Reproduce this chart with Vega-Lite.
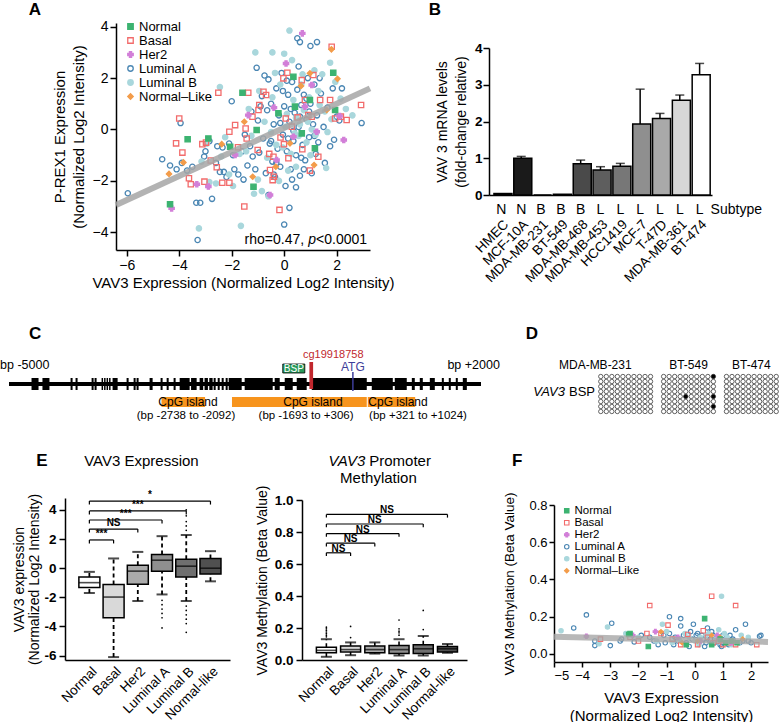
{
"$schema":"https://vega.github.io/schema/vega-lite/v6.json",
"background":"white",
"width":779,"height":722,
"autosize":{"type":"none"},
"padding":0,
"config":{
 "font":"Liberation Sans",
 "view":{"stroke":null},
 "axis":{"grid":false,"domainColor":"black","tickColor":"black","labelColor":"black","titleColor":"black","domainWidth":1.5,"tickWidth":1.5,"titleFontWeight":"normal","labelFont":"Liberation Sans","titleFont":"Liberation Sans","labelOverlap":false},
 "legend":{"labelColor":"black"},
 "text":{"color":"black"}
},
"datasets":{
 "pointsA":[
  {"subtype":"Luminal A","x":-5.96,"y":-2.48},{"subtype":"Luminal A","x":-4.65,"y":-1.16},{"subtype":"Luminal A","x":-4.35,"y":-1.4},{"subtype":"Luminal A","x":-4.1,"y":-1.55},{"subtype":"Luminal A","x":-3.95,"y":0.25},{"subtype":"Luminal A","x":-3.9,"y":-1.3},{"subtype":"Luminal A","x":-3.7,"y":-1.6},{"subtype":"Luminal A","x":-3.5,"y":-1.45},{"subtype":"Luminal A","x":-3.2,"y":-2.85},{"subtype":"Luminal A","x":-3.35,"y":-2.85},
  {"subtype":"Luminal A","x":-3.05,"y":-1.05},{"subtype":"Luminal A","x":-3.0,"y":-0.85},{"subtype":"Luminal A","x":-2.75,"y":-2.7},{"subtype":"Luminal A","x":-2.6,"y":-1.3},{"subtype":"Luminal A","x":-2.45,"y":-1.65},{"subtype":"Luminal A","x":-2.3,"y":-1.65},{"subtype":"Luminal A","x":-2.2,"y":-1.85},{"subtype":"Luminal A","x":-2.35,"y":-0.7},{"subtype":"Luminal A","x":-2.1,"y":-0.55},{"subtype":"Luminal A","x":-2.0,"y":1.1},
  {"subtype":"Luminal A","x":-1.75,"y":-1.75},{"subtype":"Luminal A","x":-1.6,"y":-0.85},{"subtype":"Luminal A","x":-1.9,"y":-1.55},{"subtype":"Luminal A","x":-1.5,"y":-0.2},{"subtype":"Luminal A","x":-1.4,"y":-1.4},{"subtype":"Luminal A","x":-1.3,"y":-0.65},{"subtype":"Luminal A","x":-1.25,"y":0.7},{"subtype":"Luminal A","x":-1.2,"y":-1.05},{"subtype":"Luminal A","x":-1.1,"y":-1.55},{"subtype":"Luminal A","x":-1.05,"y":2.4},
  {"subtype":"Luminal A","x":-1.0,"y":0.35},{"subtype":"Luminal A","x":-0.95,"y":-0.9},{"subtype":"Luminal A","x":-0.85,"y":1.3},{"subtype":"Luminal A","x":-0.8,"y":-0.35},{"subtype":"Luminal A","x":-0.75,"y":2.1},{"subtype":"Luminal A","x":-0.7,"y":-1.7},{"subtype":"Luminal A","x":-0.65,"y":0.75},{"subtype":"Luminal A","x":-0.6,"y":-2.55},{"subtype":"Luminal A","x":-0.55,"y":-0.55},{"subtype":"Luminal A","x":-0.5,"y":1.0},
  {"subtype":"Luminal A","x":-0.45,"y":-1.25},{"subtype":"Luminal A","x":-0.4,"y":0.2},{"subtype":"Luminal A","x":-0.35,"y":-1.85},{"subtype":"Luminal A","x":-0.3,"y":1.6},{"subtype":"Luminal A","x":-0.25,"y":-0.75},{"subtype":"Luminal A","x":-0.2,"y":0.55},{"subtype":"Luminal A","x":-0.15,"y":-1.45},{"subtype":"Luminal A","x":-0.1,"y":2.2},{"subtype":"Luminal A","x":-0.05,"y":-0.2},{"subtype":"Luminal A","x":0.0,"y":-3.7},
  {"subtype":"Luminal A","x":0.0,"y":0.9},{"subtype":"Luminal A","x":0.05,"y":-2.2},{"subtype":"Luminal A","x":0.1,"y":-0.85},{"subtype":"Luminal A","x":0.15,"y":1.35},{"subtype":"Luminal A","x":0.2,"y":-3.05},{"subtype":"Luminal A","x":0.2,"y":0.3},{"subtype":"Luminal A","x":0.25,"y":-1.55},{"subtype":"Luminal A","x":0.3,"y":1.85},{"subtype":"Luminal A","x":0.35,"y":-0.45},{"subtype":"Luminal A","x":0.4,"y":0.65},
  {"subtype":"Luminal A","x":0.45,"y":-2.25},{"subtype":"Luminal A","x":0.45,"y":-1.0},{"subtype":"Luminal A","x":0.5,"y":1.55},{"subtype":"Luminal A","x":0.5,"y":3.55},{"subtype":"Luminal A","x":0.55,"y":0.1},{"subtype":"Luminal A","x":0.6,"y":-1.8},{"subtype":"Luminal A","x":0.6,"y":3.4},{"subtype":"Luminal A","x":0.65,"y":0.95},{"subtype":"Luminal A","x":0.7,"y":-0.6},{"subtype":"Luminal A","x":0.75,"y":1.35},
  {"subtype":"Luminal A","x":0.8,"y":-1.2},{"subtype":"Luminal A","x":0.85,"y":0.4},{"subtype":"Luminal A","x":0.9,"y":2.0},{"subtype":"Luminal A","x":0.95,"y":-0.3},{"subtype":"Luminal A","x":1.0,"y":3.25},{"subtype":"Luminal A","x":1.0,"y":1.0},{"subtype":"Luminal A","x":1.05,"y":-1.7},{"subtype":"Luminal A","x":1.1,"y":0.2},{"subtype":"Luminal A","x":1.15,"y":1.75},{"subtype":"Luminal A","x":1.2,"y":-0.95},
  {"subtype":"Luminal A","x":1.25,"y":3.4},{"subtype":"Luminal A","x":1.25,"y":0.55},{"subtype":"Luminal A","x":1.3,"y":-0.5},{"subtype":"Luminal A","x":1.4,"y":1.4},{"subtype":"Luminal A","x":1.5,"y":0.1},{"subtype":"Luminal A","x":1.55,"y":-1.3},{"subtype":"Luminal A","x":1.65,"y":0.85},{"subtype":"Luminal A","x":1.75,"y":-0.65},{"subtype":"Luminal A","x":1.85,"y":1.6},{"subtype":"Luminal A","x":2.0,"y":0.5},
  {"subtype":"Luminal A","x":2.1,"y":0.35},{"subtype":"Luminal A","x":2.2,"y":1.6},{"subtype":"Luminal A","x":2.95,"y":0.25},{"subtype":"Luminal A","x":-0.3,"y":-1.3},{"subtype":"Luminal A","x":0.3,"y":-1.95},{"subtype":"Luminal A","x":0.75,"y":-1.55},{"subtype":"Luminal A","x":-1.55,"y":-1.95},{"subtype":"Luminal A","x":-2.55,"y":-0.65},{"subtype":"Luminal A","x":-0.9,"y":0.9},{"subtype":"Luminal A","x":0.15,"y":-0.35},
  {"subtype":"Luminal A","x":0.95,"y":0.7},{"subtype":"Luminal A","x":-0.6,"y":1.95},{"subtype":"Luminal A","x":1.35,"y":2.0},{"subtype":"Luminal A","x":0.55,"y":2.45},{"subtype":"Luminal A","x":-0.05,"y":1.5},{"subtype":"Luminal A","x":-1.95,"y":-1.0},{"subtype":"Luminal A","x":-3.3,"y":-4.3},{"subtype":"Luminal A","x":-0.4,"y":-1.75},{"subtype":"Luminal A","x":0.65,"y":-1.1},{"subtype":"Luminal A","x":-2.85,"y":-0.45},
  {"subtype":"Luminal A","x":1.9,"y":-0.4},{"subtype":"Luminal A","x":0.25,"y":0.8},{"subtype":"Luminal A","x":0.6,"y":0.5},{"subtype":"Luminal A","x":-0.15,"y":0.25},{"subtype":"Luminal A","x":0.85,"y":1.2},{"subtype":"Luminal A","x":1.15,"y":-0.25},{"subtype":"Luminal A","x":0.35,"y":-0.05},{"subtype":"Luminal A","x":-0.5,"y":-0.45},{"subtype":"Luminal A","x":0.1,"y":1.9},
  {"subtype":"Luminal B","x":0.2,"y":3.85},{"subtype":"Luminal B","x":-0.45,"y":3.0},{"subtype":"Luminal B","x":-1.1,"y":3.0},{"subtype":"Luminal B","x":0.0,"y":2.95},{"subtype":"Luminal B","x":-2.45,"y":1.65},{"subtype":"Luminal B","x":-3.25,"y":-3.85},{"subtype":"Luminal B","x":-2.1,"y":-1.75},{"subtype":"Luminal B","x":-1.65,"y":-3.75},{"subtype":"Luminal B","x":-1.15,"y":-2.5},{"subtype":"Luminal B","x":-0.85,"y":-2.4},
  {"subtype":"Luminal B","x":-0.6,"y":-2.6},{"subtype":"Luminal B","x":-2.85,"y":-2.05},{"subtype":"Luminal B","x":-3.15,"y":-1.25},{"subtype":"Luminal B","x":-1.45,"y":-0.85},{"subtype":"Luminal B","x":-1.7,"y":-0.95},{"subtype":"Luminal B","x":-0.75,"y":0.3},{"subtype":"Luminal B","x":-0.5,"y":-0.1},{"subtype":"Luminal B","x":-0.3,"y":-0.6},{"subtype":"Luminal B","x":-0.15,"y":1.75},{"subtype":"Luminal B","x":0.05,"y":0.1},
  {"subtype":"Luminal B","x":0.25,"y":-0.95},{"subtype":"Luminal B","x":0.35,"y":1.15},{"subtype":"Luminal B","x":0.45,"y":0.45},{"subtype":"Luminal B","x":0.55,"y":-0.25},{"subtype":"Luminal B","x":0.65,"y":1.75},{"subtype":"Luminal B","x":0.75,"y":0.75},{"subtype":"Luminal B","x":0.85,"y":-0.5},{"subtype":"Luminal B","x":0.95,"y":1.25},{"subtype":"Luminal B","x":1.05,"y":0.0},{"subtype":"Luminal B","x":1.15,"y":2.3},
  {"subtype":"Luminal B","x":1.2,"y":-0.2},{"subtype":"Luminal B","x":1.35,"y":0.95},{"subtype":"Luminal B","x":1.45,"y":2.15},{"subtype":"Luminal B","x":1.55,"y":0.7},{"subtype":"Luminal B","x":1.65,"y":-0.1},{"subtype":"Luminal B","x":1.8,"y":0.4},{"subtype":"Luminal B","x":1.95,"y":1.85},{"subtype":"Luminal B","x":2.15,"y":1.2},{"subtype":"Luminal B","x":2.6,"y":0.55},{"subtype":"Luminal B","x":-0.95,"y":1.5},
  {"subtype":"Luminal B","x":-1.25,"y":-0.25},{"subtype":"Luminal B","x":-2.25,"y":-0.3},{"subtype":"Luminal B","x":-2.6,"y":-2.1},{"subtype":"Luminal B","x":-1.95,"y":-2.2},{"subtype":"Luminal B","x":-0.45,"y":1.25},{"subtype":"Luminal B","x":0.15,"y":-1.6},{"subtype":"Luminal B","x":0.7,"y":2.15},{"subtype":"Luminal B","x":1.0,"y":-1.0},{"subtype":"Luminal B","x":-0.2,"y":-2.0},{"subtype":"Luminal B","x":0.45,"y":-1.45},
  {"subtype":"Luminal B","x":1.3,"y":1.5},{"subtype":"Luminal B","x":0.1,"y":0.6},{"subtype":"Luminal B","x":-0.65,"y":-1.1},{"subtype":"Luminal B","x":-1.35,"y":0.8},{"subtype":"Luminal B","x":0.9,"y":0.3},{"subtype":"Luminal B","x":0.3,"y":2.7},{"subtype":"Luminal B","x":-0.05,"y":-0.7},{"subtype":"Luminal B","x":2.35,"y":0.8},{"subtype":"Luminal B","x":1.6,"y":-1.5},{"subtype":"Luminal B","x":0.4,"y":-0.15},
  {"subtype":"Luminal B","x":-2.95,"y":-0.55},{"subtype":"Luminal B","x":-2.4,"y":-1.05},{"subtype":"Luminal B","x":-1.0,"y":-1.95},{"subtype":"Luminal B","x":-0.35,"y":2.2},{"subtype":"Luminal B","x":1.75,"y":2.6},{"subtype":"Luminal B","x":0.6,"y":0.2},
  {"subtype":"Basal","x":-2.51,"y":1.43},{"subtype":"Basal","x":-4.0,"y":0.43},{"subtype":"Basal","x":-4.12,"y":-0.54},{"subtype":"Basal","x":-3.88,"y":-0.9},{"subtype":"Basal","x":-3.63,"y":-1.9},{"subtype":"Basal","x":-3.56,"y":-2.13},{"subtype":"Basal","x":-3.04,"y":-2.03},{"subtype":"Basal","x":-3.12,"y":-0.57},{"subtype":"Basal","x":-2.98,"y":-0.51},{"subtype":"Basal","x":-2.8,"y":-1.21},
  {"subtype":"Basal","x":-2.57,"y":-1.47},{"subtype":"Basal","x":-2.36,"y":-2.07},{"subtype":"Basal","x":-2.09,"y":-2.07},{"subtype":"Basal","x":-1.87,"y":0.17},{"subtype":"Basal","x":-1.52,"y":-3.0},{"subtype":"Basal","x":-1.37,"y":1.43},{"subtype":"Basal","x":-1.21,"y":0.5},{"subtype":"Basal","x":-1.47,"y":0.04},{"subtype":"Basal","x":-1.43,"y":-0.35},{"subtype":"Basal","x":-1.01,"y":-0.8},
  {"subtype":"Basal","x":-0.95,"y":0.95},{"subtype":"Basal","x":-0.69,"y":1.34},{"subtype":"Basal","x":-0.57,"y":-0.95},{"subtype":"Basal","x":-0.44,"y":-1.97},{"subtype":"Basal","x":-0.39,"y":-1.84},{"subtype":"Basal","x":-0.18,"y":-3.13},{"subtype":"Basal","x":-0.01,"y":-0.57},{"subtype":"Basal","x":0.06,"y":0.43},{"subtype":"Basal","x":0.12,"y":2.21},{"subtype":"Basal","x":-0.03,"y":1.99},
  {"subtype":"Basal","x":0.16,"y":-1.12},{"subtype":"Basal","x":0.29,"y":0.11},{"subtype":"Basal","x":0.51,"y":0.47},{"subtype":"Basal","x":0.67,"y":1.92},{"subtype":"Basal","x":0.79,"y":1.15},{"subtype":"Basal","x":0.92,"y":0.56},{"subtype":"Basal","x":1.05,"y":0.5},{"subtype":"Basal","x":1.11,"y":2.12},{"subtype":"Basal","x":1.37,"y":1.15},{"subtype":"Basal","x":1.75,"y":1.15},
  {"subtype":"Basal","x":1.81,"y":3.22},{"subtype":"Basal","x":1.94,"y":0.43},{"subtype":"Basal","x":2.38,"y":0.37},{"subtype":"Basal","x":2.93,"y":0.95},{"subtype":"Basal","x":0.98,"y":-1.6},{"subtype":"Basal","x":0.69,"y":-0.77},{"subtype":"Basal","x":-0.79,"y":1.47},{"subtype":"Basal","x":-0.98,"y":0.76},{"subtype":"Basal","x":-1.76,"y":-0.69},{"subtype":"Basal","x":-2.09,"y":-0.09},
  {"subtype":"Basal","x":-0.41,"y":-1.06},{"subtype":"Basal","x":1.3,"y":-1.06},{"subtype":"Basal","x":-0.54,"y":-1.58},{"subtype":"Basal","x":-0.14,"y":-0.31},{"subtype":"Basal","x":2.16,"y":0.5},
  {"subtype":"Her2","x":0.69,"y":3.74},{"subtype":"Her2","x":0.07,"y":2.57},{"subtype":"Her2","x":-0.39,"y":0.85},{"subtype":"Her2","x":0.79,"y":0.89},{"subtype":"Her2","x":2.11,"y":0.52},{"subtype":"Her2","x":2.27,"y":-0.41},{"subtype":"Her2","x":-3.33,"y":-2.13},{"subtype":"Her2","x":-4.29,"y":-3.07},{"subtype":"Her2","x":-0.54,"y":-2.55},{"subtype":"Her2","x":-1.87,"y":-0.99},
  {"subtype":"Her2","x":-0.29,"y":-1.19},{"subtype":"Her2","x":0.35,"y":-0.28},{"subtype":"Her2","x":1.24,"y":-0.09},{"subtype":"Her2","x":-1.37,"y":0.56},{"subtype":"Her2","x":1.05,"y":1.73},{"subtype":"Her2","x":-2.89,"y":-2.22},
  {"subtype":"Normal–Like","x":2.03,"y":1.97},{"subtype":"Normal–Like","x":1.14,"y":-1.38},{"subtype":"Normal–Like","x":-4.39,"y":-1.73},{"subtype":"Normal–Like","x":-3.84,"y":-1.28},{"subtype":"Normal–Like","x":-2.38,"y":-0.57},{"subtype":"Normal–Like","x":-1.52,"y":0.3},{"subtype":"Normal–Like","x":0.98,"y":2.19},{"subtype":"Normal–Like","x":0.64,"y":1.69},{"subtype":"Normal–Like","x":-1.2,"y":-1.84},{"subtype":"Normal–Like","x":0.22,"y":-0.54},
  {"subtype":"Normal–Like","x":1.62,"y":0.76},{"subtype":"Normal–Like","x":-0.32,"y":-1.45},{"subtype":"Normal–Like","x":1.8,"y":3.12},
  {"subtype":"Normal","x":-1.59,"y":1.43},{"subtype":"Normal","x":1.87,"y":2.21},{"subtype":"Normal","x":-3.68,"y":-0.38},{"subtype":"Normal","x":-2.89,"y":-0.35},{"subtype":"Normal","x":-4.35,"y":-2.91},{"subtype":"Normal","x":1.17,"y":-0.73},{"subtype":"Normal","x":1.94,"y":0.76},{"subtype":"Normal","x":-0.22,"y":0.63},{"subtype":"Normal","x":0.41,"y":0.89},{"subtype":"Normal","x":0.98,"y":1.15},
  {"subtype":"Normal","x":-1.05,"y":-0.02},{"subtype":"Normal","x":0.67,"y":-0.15},{"subtype":"Normal","x":0.35,"y":2.05},{"subtype":"Normal","x":-2.06,"y":-0.67},{"subtype":"Normal","x":-1.17,"y":-2.23}
 ],
 "fitA":[{"x":-6.41,"y":-2.94},{"x":3.27,"y":1.6}],
 "barsB":[
  {"line":"HMEC","subtype":"N","fold":0.04},
  {"line":"MCF-10A","subtype":"N","fold":1.0,"upper":1.05},
  {"line":"MDA-MB-231","subtype":"B","fold":0.0},
  {"line":"BT-549","subtype":"B","fold":0.02},
  {"line":"MDA-MB-468","subtype":"B","fold":0.85,"upper":0.95},
  {"line":"MDA-MB-453","subtype":"L","fold":0.68,"upper":0.77},
  {"line":"HCC1419","subtype":"L","fold":0.78,"upper":0.86},
  {"line":"MCF-7","subtype":"L","fold":1.93,"upper":2.88},
  {"line":"T-47D","subtype":"L","fold":2.08,"upper":2.22},
  {"line":"MDA-MB-361","subtype":"L","fold":2.58,"upper":2.72},
  {"line":"BT-474","subtype":"L","fold":3.27,"upper":3.58}
 ],
 "sitesC":[
  {"start":-4666,"end":-4562},{"start":-4504,"end":-4400},{"start":-4087,"end":-4057},{"start":-4013,"end":-3983},{"start":-3775,"end":-3745},{"start":-3731,"end":-3701},{"start":-3627,"end":-3605},{"start":-3590,"end":-3568},{"start":-3553,"end":-3531},{"start":-3516,"end":-3494},
  {"start":-3464,"end":-3389},{"start":-3256,"end":-3226},{"start":-3152,"end":-3122},{"start":-3108,"end":-3078},{"start":-2915,"end":-2870},{"start":-2752,"end":-2722},{"start":-2662,"end":-2632},{"start":-2559,"end":-2529},{"start":-2469,"end":-2321},{"start":-2300,"end":-2217},
  {"start":-2173,"end":-2120},{"start":-2100,"end":-2050},{"start":-2030,"end":-1980},{"start":-1965,"end":-1935},{"start":-1905,"end":-1875},{"start":-1846,"end":-1816},{"start":-1787,"end":-1757},{"start":-1742,"end":-1549},{"start":-1505,"end":-1089},{"start":-1060,"end":-985},
  {"start":-911,"end":-792},{"start":-733,"end":-585},{"start":-510,"end":306},{"start":380,"end":692},{"start":721,"end":899},{"start":974,"end":1018},{"start":1092,"end":1137},{"start":1241,"end":1315},{"start":1419,"end":1449},{"start":1522,"end":1552},
  {"start":1626,"end":1656},{"start":1730,"end":1790}
 ],
 "islandsC":[
  {"start":-2738,"end":-2092,"nameAt":-2345,"rangeAt":-2375,"range":"(bp -2738 to -2092)"},
  {"start":-1693,"end":306,"nameAt":-492,"rangeAt":-595,"range":"(bp -1693 to +306)"},
  {"start":321,"end":1024,"nameAt":769,"rangeAt":1066,"range":"(bp +321 to +1024)"}
 ],
 "bspD":[
  {"cell":"MDA-MB-231","clone":1,"cpg":1,"m":0},{"cell":"MDA-MB-231","clone":1,"cpg":2,"m":0},{"cell":"MDA-MB-231","clone":1,"cpg":3,"m":0},{"cell":"MDA-MB-231","clone":1,"cpg":4,"m":0},{"cell":"MDA-MB-231","clone":1,"cpg":5,"m":0},{"cell":"MDA-MB-231","clone":1,"cpg":6,"m":0},{"cell":"MDA-MB-231","clone":1,"cpg":7,"m":0},{"cell":"MDA-MB-231","clone":1,"cpg":8,"m":0},{"cell":"MDA-MB-231","clone":1,"cpg":9,"m":0},{"cell":"MDA-MB-231","clone":1,"cpg":10,"m":0},
  {"cell":"MDA-MB-231","clone":2,"cpg":1,"m":0},{"cell":"MDA-MB-231","clone":2,"cpg":2,"m":0},{"cell":"MDA-MB-231","clone":2,"cpg":3,"m":0},{"cell":"MDA-MB-231","clone":2,"cpg":4,"m":0},{"cell":"MDA-MB-231","clone":2,"cpg":5,"m":0},{"cell":"MDA-MB-231","clone":2,"cpg":6,"m":0},{"cell":"MDA-MB-231","clone":2,"cpg":7,"m":0},{"cell":"MDA-MB-231","clone":2,"cpg":8,"m":0},{"cell":"MDA-MB-231","clone":2,"cpg":9,"m":0},{"cell":"MDA-MB-231","clone":2,"cpg":10,"m":0},
  {"cell":"MDA-MB-231","clone":3,"cpg":1,"m":0},{"cell":"MDA-MB-231","clone":3,"cpg":2,"m":0},{"cell":"MDA-MB-231","clone":3,"cpg":3,"m":0},{"cell":"MDA-MB-231","clone":3,"cpg":4,"m":0},{"cell":"MDA-MB-231","clone":3,"cpg":5,"m":0},{"cell":"MDA-MB-231","clone":3,"cpg":6,"m":0},{"cell":"MDA-MB-231","clone":3,"cpg":7,"m":0},{"cell":"MDA-MB-231","clone":3,"cpg":8,"m":0},{"cell":"MDA-MB-231","clone":3,"cpg":9,"m":0},{"cell":"MDA-MB-231","clone":3,"cpg":10,"m":0},
  {"cell":"MDA-MB-231","clone":4,"cpg":1,"m":0},{"cell":"MDA-MB-231","clone":4,"cpg":2,"m":0},{"cell":"MDA-MB-231","clone":4,"cpg":3,"m":0},{"cell":"MDA-MB-231","clone":4,"cpg":4,"m":0},{"cell":"MDA-MB-231","clone":4,"cpg":5,"m":0},{"cell":"MDA-MB-231","clone":4,"cpg":6,"m":0},{"cell":"MDA-MB-231","clone":4,"cpg":7,"m":0},{"cell":"MDA-MB-231","clone":4,"cpg":8,"m":0},{"cell":"MDA-MB-231","clone":4,"cpg":9,"m":0},{"cell":"MDA-MB-231","clone":4,"cpg":10,"m":0},
  {"cell":"MDA-MB-231","clone":5,"cpg":1,"m":0},{"cell":"MDA-MB-231","clone":5,"cpg":2,"m":0},{"cell":"MDA-MB-231","clone":5,"cpg":3,"m":0},{"cell":"MDA-MB-231","clone":5,"cpg":4,"m":0},{"cell":"MDA-MB-231","clone":5,"cpg":5,"m":0},{"cell":"MDA-MB-231","clone":5,"cpg":6,"m":0},{"cell":"MDA-MB-231","clone":5,"cpg":7,"m":0},{"cell":"MDA-MB-231","clone":5,"cpg":8,"m":0},{"cell":"MDA-MB-231","clone":5,"cpg":9,"m":0},{"cell":"MDA-MB-231","clone":5,"cpg":10,"m":0},
  {"cell":"MDA-MB-231","clone":6,"cpg":1,"m":0},{"cell":"MDA-MB-231","clone":6,"cpg":2,"m":0},{"cell":"MDA-MB-231","clone":6,"cpg":3,"m":0},{"cell":"MDA-MB-231","clone":6,"cpg":4,"m":0},{"cell":"MDA-MB-231","clone":6,"cpg":5,"m":0},{"cell":"MDA-MB-231","clone":6,"cpg":6,"m":0},{"cell":"MDA-MB-231","clone":6,"cpg":7,"m":0},{"cell":"MDA-MB-231","clone":6,"cpg":8,"m":0},{"cell":"MDA-MB-231","clone":6,"cpg":9,"m":0},{"cell":"MDA-MB-231","clone":6,"cpg":10,"m":0},
  {"cell":"MDA-MB-231","clone":7,"cpg":1,"m":0},{"cell":"MDA-MB-231","clone":7,"cpg":2,"m":0},{"cell":"MDA-MB-231","clone":7,"cpg":3,"m":0},{"cell":"MDA-MB-231","clone":7,"cpg":4,"m":0},{"cell":"MDA-MB-231","clone":7,"cpg":5,"m":0},{"cell":"MDA-MB-231","clone":7,"cpg":6,"m":0},{"cell":"MDA-MB-231","clone":7,"cpg":7,"m":0},{"cell":"MDA-MB-231","clone":7,"cpg":8,"m":0},{"cell":"MDA-MB-231","clone":7,"cpg":9,"m":0},{"cell":"MDA-MB-231","clone":7,"cpg":10,"m":0},
  {"cell":"MDA-MB-231","clone":8,"cpg":1,"m":0},{"cell":"MDA-MB-231","clone":8,"cpg":2,"m":0},{"cell":"MDA-MB-231","clone":8,"cpg":3,"m":0},{"cell":"MDA-MB-231","clone":8,"cpg":4,"m":0},{"cell":"MDA-MB-231","clone":8,"cpg":5,"m":0},{"cell":"MDA-MB-231","clone":8,"cpg":6,"m":0},{"cell":"MDA-MB-231","clone":8,"cpg":7,"m":0},{"cell":"MDA-MB-231","clone":8,"cpg":8,"m":0},{"cell":"MDA-MB-231","clone":8,"cpg":9,"m":0},{"cell":"MDA-MB-231","clone":8,"cpg":10,"m":0},
  {"cell":"BT-549","clone":1,"cpg":1,"m":0},{"cell":"BT-549","clone":1,"cpg":2,"m":0},{"cell":"BT-549","clone":1,"cpg":3,"m":0},{"cell":"BT-549","clone":1,"cpg":4,"m":0},{"cell":"BT-549","clone":1,"cpg":5,"m":0},{"cell":"BT-549","clone":1,"cpg":6,"m":0},{"cell":"BT-549","clone":1,"cpg":7,"m":0},{"cell":"BT-549","clone":1,"cpg":8,"m":0},{"cell":"BT-549","clone":1,"cpg":9,"m":0},{"cell":"BT-549","clone":1,"cpg":10,"m":1},
  {"cell":"BT-549","clone":2,"cpg":1,"m":0},{"cell":"BT-549","clone":2,"cpg":2,"m":0},{"cell":"BT-549","clone":2,"cpg":3,"m":0},{"cell":"BT-549","clone":2,"cpg":4,"m":0},{"cell":"BT-549","clone":2,"cpg":5,"m":0},{"cell":"BT-549","clone":2,"cpg":6,"m":0},{"cell":"BT-549","clone":2,"cpg":7,"m":0},{"cell":"BT-549","clone":2,"cpg":8,"m":0},{"cell":"BT-549","clone":2,"cpg":9,"m":0},{"cell":"BT-549","clone":2,"cpg":10,"m":0},
  {"cell":"BT-549","clone":3,"cpg":1,"m":0},{"cell":"BT-549","clone":3,"cpg":2,"m":0},{"cell":"BT-549","clone":3,"cpg":3,"m":0},{"cell":"BT-549","clone":3,"cpg":4,"m":0},{"cell":"BT-549","clone":3,"cpg":5,"m":0},{"cell":"BT-549","clone":3,"cpg":6,"m":0},{"cell":"BT-549","clone":3,"cpg":7,"m":0},{"cell":"BT-549","clone":3,"cpg":8,"m":0},{"cell":"BT-549","clone":3,"cpg":9,"m":0},{"cell":"BT-549","clone":3,"cpg":10,"m":0},
  {"cell":"BT-549","clone":4,"cpg":1,"m":0},{"cell":"BT-549","clone":4,"cpg":2,"m":0},{"cell":"BT-549","clone":4,"cpg":3,"m":0},{"cell":"BT-549","clone":4,"cpg":4,"m":0},{"cell":"BT-549","clone":4,"cpg":5,"m":0},{"cell":"BT-549","clone":4,"cpg":6,"m":0},{"cell":"BT-549","clone":4,"cpg":7,"m":0},{"cell":"BT-549","clone":4,"cpg":8,"m":0},{"cell":"BT-549","clone":4,"cpg":9,"m":0},{"cell":"BT-549","clone":4,"cpg":10,"m":0},
  {"cell":"BT-549","clone":5,"cpg":1,"m":0},{"cell":"BT-549","clone":5,"cpg":2,"m":0},{"cell":"BT-549","clone":5,"cpg":3,"m":0},{"cell":"BT-549","clone":5,"cpg":4,"m":0},{"cell":"BT-549","clone":5,"cpg":5,"m":1},{"cell":"BT-549","clone":5,"cpg":6,"m":0},{"cell":"BT-549","clone":5,"cpg":7,"m":0},{"cell":"BT-549","clone":5,"cpg":8,"m":0},{"cell":"BT-549","clone":5,"cpg":9,"m":0},{"cell":"BT-549","clone":5,"cpg":10,"m":1},
  {"cell":"BT-549","clone":6,"cpg":1,"m":0},{"cell":"BT-549","clone":6,"cpg":2,"m":0},{"cell":"BT-549","clone":6,"cpg":3,"m":0},{"cell":"BT-549","clone":6,"cpg":4,"m":0},{"cell":"BT-549","clone":6,"cpg":5,"m":0},{"cell":"BT-549","clone":6,"cpg":6,"m":0},{"cell":"BT-549","clone":6,"cpg":7,"m":0},{"cell":"BT-549","clone":6,"cpg":8,"m":0},{"cell":"BT-549","clone":6,"cpg":9,"m":0},{"cell":"BT-549","clone":6,"cpg":10,"m":0},
  {"cell":"BT-549","clone":7,"cpg":1,"m":0},{"cell":"BT-549","clone":7,"cpg":2,"m":0},{"cell":"BT-549","clone":7,"cpg":3,"m":0},{"cell":"BT-549","clone":7,"cpg":4,"m":0},{"cell":"BT-549","clone":7,"cpg":5,"m":0},{"cell":"BT-549","clone":7,"cpg":6,"m":0},{"cell":"BT-549","clone":7,"cpg":7,"m":0},{"cell":"BT-549","clone":7,"cpg":8,"m":0},{"cell":"BT-549","clone":7,"cpg":9,"m":0},{"cell":"BT-549","clone":7,"cpg":10,"m":1},
  {"cell":"BT-549","clone":8,"cpg":1,"m":0},{"cell":"BT-549","clone":8,"cpg":2,"m":0},{"cell":"BT-549","clone":8,"cpg":3,"m":0},{"cell":"BT-549","clone":8,"cpg":4,"m":0},{"cell":"BT-549","clone":8,"cpg":5,"m":0},{"cell":"BT-549","clone":8,"cpg":6,"m":0},{"cell":"BT-549","clone":8,"cpg":7,"m":0},{"cell":"BT-549","clone":8,"cpg":8,"m":0},{"cell":"BT-549","clone":8,"cpg":9,"m":0},{"cell":"BT-549","clone":8,"cpg":10,"m":0},
  {"cell":"BT-474","clone":1,"cpg":1,"m":0},{"cell":"BT-474","clone":1,"cpg":2,"m":0},{"cell":"BT-474","clone":1,"cpg":3,"m":0},{"cell":"BT-474","clone":1,"cpg":4,"m":0},{"cell":"BT-474","clone":1,"cpg":5,"m":0},{"cell":"BT-474","clone":1,"cpg":6,"m":0},{"cell":"BT-474","clone":1,"cpg":7,"m":0},{"cell":"BT-474","clone":1,"cpg":8,"m":0},{"cell":"BT-474","clone":1,"cpg":9,"m":0},{"cell":"BT-474","clone":1,"cpg":10,"m":0},
  {"cell":"BT-474","clone":2,"cpg":1,"m":0},{"cell":"BT-474","clone":2,"cpg":2,"m":0},{"cell":"BT-474","clone":2,"cpg":3,"m":0},{"cell":"BT-474","clone":2,"cpg":4,"m":0},{"cell":"BT-474","clone":2,"cpg":5,"m":0},{"cell":"BT-474","clone":2,"cpg":6,"m":0},{"cell":"BT-474","clone":2,"cpg":7,"m":0},{"cell":"BT-474","clone":2,"cpg":8,"m":0},{"cell":"BT-474","clone":2,"cpg":9,"m":0},{"cell":"BT-474","clone":2,"cpg":10,"m":0},
  {"cell":"BT-474","clone":3,"cpg":1,"m":0},{"cell":"BT-474","clone":3,"cpg":2,"m":0},{"cell":"BT-474","clone":3,"cpg":3,"m":0},{"cell":"BT-474","clone":3,"cpg":4,"m":0},{"cell":"BT-474","clone":3,"cpg":5,"m":0},{"cell":"BT-474","clone":3,"cpg":6,"m":0},{"cell":"BT-474","clone":3,"cpg":7,"m":0},{"cell":"BT-474","clone":3,"cpg":8,"m":0},{"cell":"BT-474","clone":3,"cpg":9,"m":0},{"cell":"BT-474","clone":3,"cpg":10,"m":0},
  {"cell":"BT-474","clone":4,"cpg":1,"m":0},{"cell":"BT-474","clone":4,"cpg":2,"m":0},{"cell":"BT-474","clone":4,"cpg":3,"m":0},{"cell":"BT-474","clone":4,"cpg":4,"m":0},{"cell":"BT-474","clone":4,"cpg":5,"m":0},{"cell":"BT-474","clone":4,"cpg":6,"m":0},{"cell":"BT-474","clone":4,"cpg":7,"m":0},{"cell":"BT-474","clone":4,"cpg":8,"m":0},{"cell":"BT-474","clone":4,"cpg":9,"m":0},{"cell":"BT-474","clone":4,"cpg":10,"m":0},
  {"cell":"BT-474","clone":5,"cpg":1,"m":0},{"cell":"BT-474","clone":5,"cpg":2,"m":0},{"cell":"BT-474","clone":5,"cpg":3,"m":0},{"cell":"BT-474","clone":5,"cpg":4,"m":0},{"cell":"BT-474","clone":5,"cpg":5,"m":0},{"cell":"BT-474","clone":5,"cpg":6,"m":0},{"cell":"BT-474","clone":5,"cpg":7,"m":0},{"cell":"BT-474","clone":5,"cpg":8,"m":0},{"cell":"BT-474","clone":5,"cpg":9,"m":0},{"cell":"BT-474","clone":5,"cpg":10,"m":0},
  {"cell":"BT-474","clone":6,"cpg":1,"m":0},{"cell":"BT-474","clone":6,"cpg":2,"m":0},{"cell":"BT-474","clone":6,"cpg":3,"m":0},{"cell":"BT-474","clone":6,"cpg":4,"m":0},{"cell":"BT-474","clone":6,"cpg":5,"m":0},{"cell":"BT-474","clone":6,"cpg":6,"m":0},{"cell":"BT-474","clone":6,"cpg":7,"m":0},{"cell":"BT-474","clone":6,"cpg":8,"m":0},{"cell":"BT-474","clone":6,"cpg":9,"m":0},{"cell":"BT-474","clone":6,"cpg":10,"m":0},
  {"cell":"BT-474","clone":7,"cpg":1,"m":0},{"cell":"BT-474","clone":7,"cpg":2,"m":0},{"cell":"BT-474","clone":7,"cpg":3,"m":0},{"cell":"BT-474","clone":7,"cpg":4,"m":0},{"cell":"BT-474","clone":7,"cpg":5,"m":0},{"cell":"BT-474","clone":7,"cpg":6,"m":0},{"cell":"BT-474","clone":7,"cpg":7,"m":0},{"cell":"BT-474","clone":7,"cpg":8,"m":0},{"cell":"BT-474","clone":7,"cpg":9,"m":0},{"cell":"BT-474","clone":7,"cpg":10,"m":0},
  {"cell":"BT-474","clone":8,"cpg":1,"m":0},{"cell":"BT-474","clone":8,"cpg":2,"m":0},{"cell":"BT-474","clone":8,"cpg":3,"m":0},{"cell":"BT-474","clone":8,"cpg":4,"m":0},{"cell":"BT-474","clone":8,"cpg":5,"m":0},{"cell":"BT-474","clone":8,"cpg":6,"m":0},{"cell":"BT-474","clone":8,"cpg":7,"m":0},{"cell":"BT-474","clone":8,"cpg":8,"m":0},{"cell":"BT-474","clone":8,"cpg":9,"m":0},{"cell":"BT-474","clone":8,"cpg":10,"m":0}
 ],
 "boxE1":[
  {"i":1,"name":"Normal","lo":-1.7,"q1":-1.33,"med":-0.99,"q3":-0.6,"hi":-0.25},
  {"i":2,"name":"Basal","lo":-6.1,"q1":-3.4,"med":-1.98,"q3":-1.12,"hi":0.67},
  {"i":3,"name":"Her2","lo":-2.25,"q1":-1.1,"med":-0.2,"q3":0.2,"hi":1.12},
  {"i":4,"name":"Luminal A","lo":-1.8,"q1":-0.2,"med":0.55,"q3":0.94,"hi":2.2},
  {"i":5,"name":"Luminal B","lo":-2.25,"q1":-0.6,"med":0.14,"q3":0.62,"hi":2.28},
  {"i":6,"name":"Normal-like","lo":-0.9,"q1":-0.4,"med":0.0,"q3":0.67,"hi":1.17}
 ],
 "outE1":[
  {"i":4,"v":-2.2},{"i":4,"v":-2.5},{"i":4,"v":-2.8},{"i":4,"v":-3.1},{"i":4,"v":-3.4},{"i":4,"v":-4.1},
  {"i":5,"v":2.6},{"i":5,"v":2.9},{"i":5,"v":3.2},{"i":5,"v":3.6},{"i":5,"v":4.0},
  {"i":5,"v":-2.6},{"i":5,"v":-2.9},{"i":5,"v":-3.2},{"i":5,"v":-3.5},{"i":5,"v":-3.8},{"i":5,"v":-4.4}
 ],
 "brE1":[
  {"a":1,"b":2,"m":1.5,"lv":1.94,"lt":1.7,"lab":"***"},
  {"a":1,"b":3,"m":2,"lv":2.69,"lt":2.45,"lab":"NS"},
  {"a":1,"b":4,"m":2.5,"lv":3.31,"lt":3.07,"lab":"***"},
  {"a":1,"b":5,"m":3,"lv":3.93,"lt":3.69,"lab":"***"},
  {"a":1,"b":6,"m":3.5,"lv":4.61,"lt":4.37,"lab":"*"}
 ],
 "boxE2":[
  {"i":1,"name":"Normal","lo":0.02,"q1":0.045,"med":0.06,"q3":0.08,"hi":0.13},
  {"i":2,"name":"Basal","lo":0.03,"q1":0.05,"med":0.065,"q3":0.088,"hi":0.11},
  {"i":3,"name":"Her2","lo":0.04,"q1":0.045,"med":0.065,"q3":0.088,"hi":0.11},
  {"i":4,"name":"Luminal A","lo":0.028,"q1":0.04,"med":0.065,"q3":0.09,"hi":0.13},
  {"i":5,"name":"Luminal B","lo":0.028,"q1":0.04,"med":0.07,"q3":0.095,"hi":0.15},
  {"i":6,"name":"Normal-like","lo":0.045,"q1":0.05,"med":0.07,"q3":0.085,"hi":0.1}
 ],
 "outE2":[
  {"i":1,"v":0.145},{"i":1,"v":0.155},{"i":1,"v":0.165},{"i":1,"v":0.175},{"i":1,"v":0.185},{"i":1,"v":0.195},{"i":1,"v":0.205},
  {"i":2,"v":0.14},{"i":2,"v":0.21},
  {"i":4,"v":0.155},{"i":4,"v":0.17},{"i":4,"v":0.18},{"i":4,"v":0.195},{"i":4,"v":0.25},
  {"i":5,"v":0.19},{"i":5,"v":0.31}
 ],
 "brE2":[
  {"a":1,"b":2,"m":1.5,"lv":0.67,"lt":0.65,"lab":"NS"},
  {"a":1,"b":3,"m":2,"lv":0.73,"lt":0.71,"lab":"NS"},
  {"a":1,"b":4,"m":2.5,"lv":0.79,"lt":0.77,"lab":"NS"},
  {"a":1,"b":5,"m":3,"lv":0.85,"lt":0.83,"lab":"NS"},
  {"a":1,"b":6,"m":3.5,"lv":0.91,"lt":0.89,"lab":"NS"}
 ],
 "pointsF":[
  {"subtype":"Luminal A","x":-3.85,"y":0.21},{"subtype":"Luminal A","x":-4.3,"y":0.14},{"subtype":"Luminal A","x":-2.95,"y":0.165},{"subtype":"Luminal A","x":-3.55,"y":0.07},{"subtype":"Luminal A","x":-3.55,"y":0.045},{"subtype":"Luminal A","x":-3.0,"y":0.045},{"subtype":"Luminal A","x":-2.65,"y":0.07},{"subtype":"Luminal A","x":-2.15,"y":0.065},{"subtype":"Luminal A","x":-1.9,"y":0.1},{"subtype":"Luminal A","x":-1.45,"y":0.07},
  {"subtype":"Luminal A","x":-1.3,"y":0.05},{"subtype":"Luminal A","x":-1.1,"y":0.1},{"subtype":"Luminal A","x":-0.9,"y":0.2},{"subtype":"Luminal A","x":-0.9,"y":0.11},{"subtype":"Luminal A","x":-0.75,"y":0.05},{"subtype":"Luminal A","x":-0.6,"y":0.07},{"subtype":"Luminal A","x":-0.5,"y":0.19},{"subtype":"Luminal A","x":-0.5,"y":0.15},{"subtype":"Luminal A","x":-0.4,"y":0.1},{"subtype":"Luminal A","x":-0.3,"y":0.06},
  {"subtype":"Luminal A","x":-0.1,"y":0.08},{"subtype":"Luminal A","x":-0.05,"y":0.16},{"subtype":"Luminal A","x":0.1,"y":0.11},{"subtype":"Luminal A","x":0.15,"y":0.06},{"subtype":"Luminal A","x":0.25,"y":0.1},{"subtype":"Luminal A","x":0.35,"y":0.04},{"subtype":"Luminal A","x":0.45,"y":0.14},{"subtype":"Luminal A","x":0.55,"y":0.08},{"subtype":"Luminal A","x":0.6,"y":0.12},{"subtype":"Luminal A","x":0.7,"y":0.06},
  {"subtype":"Luminal A","x":0.8,"y":0.09},{"subtype":"Luminal A","x":0.9,"y":0.05},{"subtype":"Luminal A","x":1.0,"y":0.1},{"subtype":"Luminal A","x":1.1,"y":0.07},{"subtype":"Luminal A","x":1.2,"y":0.05},{"subtype":"Luminal A","x":1.35,"y":0.08},{"subtype":"Luminal A","x":1.45,"y":0.13},{"subtype":"Luminal A","x":1.6,"y":0.06},{"subtype":"Luminal A","x":1.8,"y":0.16},{"subtype":"Luminal A","x":1.9,"y":0.07},
  {"subtype":"Luminal A","x":2.0,"y":0.06},{"subtype":"Luminal A","x":2.3,"y":0.095},{"subtype":"Luminal A","x":2.35,"y":0.1},{"subtype":"Luminal A","x":-1.05,"y":0.06},{"subtype":"Luminal A","x":-0.2,"y":0.04},{"subtype":"Luminal A","x":0.4,"y":0.06},{"subtype":"Luminal A","x":1.25,"y":0.1},{"subtype":"Luminal A","x":-0.7,"y":0.09},{"subtype":"Luminal A","x":-1.6,"y":0.09},{"subtype":"Luminal A","x":0.05,"y":0.1},
  {"subtype":"Luminal A","x":0.95,"y":0.04},{"subtype":"Luminal A","x":1.7,"y":0.07},{"subtype":"Luminal A","x":-2.6,"y":0.08},{"subtype":"Luminal A","x":-0.15,"y":0.12},{"subtype":"Luminal A","x":0.65,"y":0.1},{"subtype":"Luminal A","x":0.3,"y":0.08},
  {"subtype":"Luminal B","x":0.95,"y":0.31},{"subtype":"Luminal B","x":-4.75,"y":0.125},{"subtype":"Luminal B","x":-3.1,"y":0.145},{"subtype":"Luminal B","x":-3.4,"y":0.055},{"subtype":"Luminal B","x":-2.45,"y":0.11},{"subtype":"Luminal B","x":-2.0,"y":0.09},{"subtype":"Luminal B","x":-1.15,"y":0.16},{"subtype":"Luminal B","x":-1.0,"y":0.12},{"subtype":"Luminal B","x":-0.8,"y":0.06},{"subtype":"Luminal B","x":-0.35,"y":0.11},
  {"subtype":"Luminal B","x":-0.2,"y":0.09},{"subtype":"Luminal B","x":0.0,"y":0.07},{"subtype":"Luminal B","x":0.2,"y":0.09},{"subtype":"Luminal B","x":0.5,"y":0.11},{"subtype":"Luminal B","x":0.75,"y":0.08},{"subtype":"Luminal B","x":1.0,"y":0.07},{"subtype":"Luminal B","x":1.05,"y":0.11},{"subtype":"Luminal B","x":1.15,"y":0.09},{"subtype":"Luminal B","x":1.3,"y":0.05},{"subtype":"Luminal B","x":1.55,"y":0.06},
  {"subtype":"Luminal B","x":1.65,"y":0.1},{"subtype":"Luminal B","x":0.85,"y":0.13},{"subtype":"Luminal B","x":-1.35,"y":0.07},{"subtype":"Luminal B","x":0.4,"y":0.1},{"subtype":"Luminal B","x":-0.55,"y":0.08},{"subtype":"Luminal B","x":1.9,"y":0.09},{"subtype":"Luminal B","x":0.15,"y":0.05},
  {"subtype":"Basal","x":0.6,"y":0.31},{"subtype":"Basal","x":1.45,"y":0.26},{"subtype":"Basal","x":-1.6,"y":0.26},{"subtype":"Basal","x":-0.95,"y":0.155},{"subtype":"Basal","x":-1.7,"y":0.11},{"subtype":"Basal","x":-2.0,"y":0.07},{"subtype":"Basal","x":-3.35,"y":0.08},{"subtype":"Basal","x":-2.3,"y":0.09},{"subtype":"Basal","x":0.3,"y":0.125},{"subtype":"Basal","x":-0.25,"y":0.105},
  {"subtype":"Basal","x":2.2,"y":0.05},{"subtype":"Basal","x":1.45,"y":0.05},{"subtype":"Basal","x":1.0,"y":0.05},{"subtype":"Basal","x":0.65,"y":0.06},{"subtype":"Basal","x":-0.5,"y":0.05},{"subtype":"Basal","x":0.1,"y":0.05},{"subtype":"Basal","x":-1.2,"y":0.11},{"subtype":"Basal","x":0.85,"y":0.07},{"subtype":"Basal","x":1.2,"y":0.06},{"subtype":"Basal","x":-0.8,"y":0.08},
  {"subtype":"Basal","x":0.45,"y":0.09},
  {"subtype":"Her2","x":-3.85,"y":0.095},{"subtype":"Her2","x":-2.2,"y":0.1},{"subtype":"Her2","x":-1.4,"y":0.12},{"subtype":"Her2","x":-0.6,"y":0.09},{"subtype":"Her2","x":0.2,"y":0.07},{"subtype":"Her2","x":1.3,"y":0.06},{"subtype":"Her2","x":0.8,"y":0.1},
  {"subtype":"Normal–Like","x":-1.2,"y":0.12},{"subtype":"Normal–Like","x":0.6,"y":0.1},{"subtype":"Normal–Like","x":1.35,"y":0.07},{"subtype":"Normal–Like","x":0.1,"y":0.07},{"subtype":"Normal–Like","x":-0.45,"y":0.06},{"subtype":"Normal–Like","x":1.7,"y":0.08},{"subtype":"Normal–Like","x":0.9,"y":0.09},
  {"subtype":"Normal","x":0.35,"y":0.19},{"subtype":"Normal","x":-2.3,"y":0.11},{"subtype":"Normal","x":-1.65,"y":0.04},{"subtype":"Normal","x":1.1,"y":0.06},{"subtype":"Normal","x":0.6,"y":0.05},{"subtype":"Normal","x":1.3,"y":0.07},{"subtype":"Normal","x":-0.3,"y":0.05},{"subtype":"Normal","x":0.9,"y":0.08},{"subtype":"Normal","x":1.5,"y":0.06},{"subtype":"Normal","x":-2.35,"y":0.105}
 ],
 "fitF":[{"x":-5,"y":0.093},{"x":2.6,"y":0.065}]
},
"layer":[
 {"layer":[
   {"data":{"name":"pointsA"},"mark":{"type":"point","size":28,"strokeWidth":1.3,"opacity":1},
    "encoding":{
     "x":{"field":"x","type":"quantitative","scale":{"domain":[-6.41,3.27],"range":[116,370],"nice":false,"zero":false},"axis":{"orient":"bottom","offset":-472,"values":[-6,-4,-2,0,2],"format":"d","title":"VAV3 Expression (Normalized Log2 Intensity)","titleFontSize":15,"labelFontSize":14,"tickSize":6,"labelPadding":2,"titlePadding":3}},
     "y":{"field":"y","type":"quantitative","scale":{"domain":[-4.69,4.144],"range":[250,23],"nice":false,"zero":false},"axis":{"orient":"left","offset":-116,"values":[-4,-2,0,2,4],"format":"d","title":["P-REX1 Expression","(Normalized Log2 Intensity)"],"titleFontSize":15,"titleLineHeight":18.5,"labelFontSize":14,"tickSize":6,"labelPadding":2,"titlePadding":6}},
     "shape":{"field":"subtype","type":"nominal","scale":{"domain":["Normal","Basal","Her2","Luminal A","Luminal B","Normal–Like"],"range":["square","square","cross","circle","circle","diamond"]},"legend":{"title":null,"orient":"none","legendX":124,"legendY":20,"labelFontSize":13,"symbolSize":30,"symbolStrokeWidth":1.3,"rowPadding":-3.2,"labelOffset":2,"padding":0}},
     "fill":{"field":"subtype","type":"nominal","scale":{"domain":["Normal","Basal","Her2","Luminal A","Luminal B","Normal–Like"],"range":["#3cb371","transparent","#d27fd8","transparent","#a9d7dc","#f39c4a"]},"legend":{"title":null,"orient":"none","legendX":124,"legendY":20,"labelFontSize":13,"symbolSize":30,"symbolStrokeWidth":1.3,"rowPadding":-3.2,"labelOffset":2,"padding":0}},
     "stroke":{"field":"subtype","type":"nominal","scale":{"domain":["Normal","Basal","Her2","Luminal A","Luminal B","Normal–Like"],"range":["#3cb371","#f26b6b","#d27fd8","#4a86b3","#a9d7dc","#f39c4a"]},"legend":{"title":null,"orient":"none","legendX":124,"legendY":20,"labelFontSize":13,"symbolSize":30,"symbolStrokeWidth":1.3,"rowPadding":-3.2,"labelOffset":2,"padding":0}}
    }},
   {"data":{"name":"fitA"},"mark":{"type":"line","color":"#a6a6a6","strokeWidth":6,"opacity":0.85,"strokeCap":"butt"},"encoding":{"x":{"field":"x","type":"quantitative"},"y":{"field":"y","type":"quantitative"}}},
   {"data":{"values":[{}]},"mark":{"type":"text","align":"right","baseline":"middle","fontSize":14},"encoding":{"x":{"datum":3.16},"y":{"datum":-4.3},"text":{"value":"<0.0001"}}},
   {"data":{"values":[{}]},"mark":{"type":"text","align":"right","baseline":"middle","fontSize":14,"fontStyle":"italic","dx":-51},"encoding":{"x":{"datum":3.16},"y":{"datum":-4.3},"text":{"value":"p"}}},
   {"data":{"values":[{}]},"mark":{"type":"text","align":"right","baseline":"middle","fontSize":14,"dx":-63},"encoding":{"x":{"datum":3.16},"y":{"datum":-4.3},"text":{"value":"rho=0.47,"}}},
   {"data":{"values":[{}]},"mark":{"type":"text","fontSize":17,"fontWeight":"bold","baseline":"middle"},"encoding":{"x":{"datum":-9.5},"y":{"datum":4.65},"text":{"value":"A"}}}
 ]},
 {"data":{"name":"barsB"},
  "layer":[
   {"mark":{"type":"bar","stroke":"black","strokeWidth":1.5},
    "encoding":{
     "x":{"field":"line","type":"nominal","sort":null,"scale":{"range":[489,712],"paddingInner":0.25,"paddingOuter":0.25},"axis":{"orient":"bottom","offset":-527,"title":null,"labelAngle":-45,"labelFontSize":13.5,"ticks":false,"labelPadding":22}},
     "y":{"field":"fold","type":"quantitative","scale":{"domain":[0,4],"range":[195,48],"nice":false},"axis":{"orient":"left","offset":-489,"values":[0,1,2,3,4],"format":"d","title":["VAV 3 mRNA levels","(fold-change relative)"],"titleFontSize":14,"titleLineHeight":19,"labelFontSize":13.5,"labelFontWeight":"bold","tickSize":6,"labelPadding":1,"titlePadding":6}},
     "fill":{"field":"line","type":"nominal","sort":null,"scale":{"domain":["HMEC","MCF-10A","MDA-MB-231","BT-549","MDA-MB-468","MDA-MB-453","HCC1419","MCF-7","T-47D","MDA-MB-361","BT-474"],"range":["#1a1a1a","#1a1a1a","#333333","#3d3d3d","#4a4a4a","#5e5e5e","#777777","#8f8f8f","#a9a9a9","#d7d7d7","#ffffff"]},"legend":null}}},
   {"transform":[{"filter":"isValid(datum.upper)"}],"mark":{"type":"rule","strokeWidth":1.5,"color":"black"},"encoding":{"x":{"field":"line","type":"nominal","sort":null},"y":{"field":"fold","type":"quantitative"},"y2":{"field":"upper"}}},
   {"transform":[{"filter":"isValid(datum.upper)"}],"mark":{"type":"tick","size":9,"thickness":1.5,"color":"black"},"encoding":{"x":{"field":"line","type":"nominal","sort":null},"y":{"field":"upper","type":"quantitative"}}},
   {"mark":{"type":"text","fontSize":14,"baseline":"middle"},"encoding":{"x":{"field":"line","type":"nominal","sort":null},"y":{"datum":-0.41},"text":{"field":"subtype"}}},
   {"data":{"values":[{"line":"BT-474"}]},"mark":{"type":"text","fontSize":14,"baseline":"middle","align":"left","dx":11},"encoding":{"x":{"field":"line","type":"nominal","sort":null},"y":{"datum":-0.41},"text":{"value":"Subtype"}}},
   {"data":{"values":[{"line":"HMEC"}]},"mark":{"type":"text","fontSize":17,"fontWeight":"bold","baseline":"middle","dx":-66.5},"encoding":{"x":{"field":"line","type":"nominal","sort":null},"y":{"datum":5.034},"text":{"value":"B"}}}
 ]},
 {"layer":[
   {"data":{"values":[{"start":-5000,"end":2000}]},"mark":{"type":"rule","strokeWidth":4,"color":"black"},
    "encoding":{"x":{"field":"start","type":"quantitative","scale":{"domain":[-5000,2000],"range":[9,481],"nice":false,"zero":false},"axis":null},"x2":{"field":"end"},"y":{"datum":4.1,"type":"quantitative","scale":{"domain":[0,7],"range":[425,355],"nice":false,"zero":false},"axis":null}}},
   {"data":{"name":"sitesC"},"mark":{"type":"rect","color":"black"},"encoding":{"x":{"field":"start","type":"quantitative","axis":null},"x2":{"field":"end"},"y":{"datum":4.7,"type":"quantitative","axis":null},"y2":{"datum":3.5}}},
   {"data":{"name":"islandsC"},"mark":{"type":"rect","color":"#f7941d"},"encoding":{"x":{"field":"start","type":"quantitative","axis":null},"x2":{"field":"end"},"y":{"datum":2.8,"type":"quantitative","axis":null},"y2":{"datum":1.8}}},
   {"data":{"name":"islandsC"},"mark":{"type":"text","fontSize":12,"baseline":"middle"},"encoding":{"x":{"field":"nameAt","type":"quantitative","axis":null},"y":{"datum":2.3,"type":"quantitative","axis":null},"text":{"value":"CpG island"}}},
   {"data":{"name":"islandsC"},"mark":{"type":"text","fontSize":11.5,"baseline":"middle"},"encoding":{"x":{"field":"rangeAt","type":"quantitative","axis":null},"y":{"datum":0.9,"type":"quantitative","axis":null},"text":{"field":"range"}}},
   {"data":{"values":[{"start":-545,"end":-490}]},"mark":{"type":"rect","color":"#c1272d"},"encoding":{"x":{"field":"start","type":"quantitative","axis":null},"x2":{"field":"end"},"y":{"datum":6.3,"type":"quantitative","axis":null},"y2":{"datum":3.6}}},
   {"data":{"values":[{"probe":"cg19918758"}]},"mark":{"type":"text","color":"#c1272d","fontSize":11,"align":"left","baseline":"middle"},"encoding":{"x":{"datum":-640,"type":"quantitative","axis":null},"y":{"datum":7.0,"type":"quantitative","axis":null},"text":{"field":"probe"}}},
   {"data":{"values":[{"start":-940,"end":-613}]},"mark":{"type":"rect","fill":"#2a9a5b","stroke":"black","strokeWidth":0.8},"encoding":{"x":{"field":"start","type":"quantitative","axis":null},"x2":{"field":"end"},"y":{"datum":6.1,"type":"quantitative","axis":null},"y2":{"datum":5.2}}},
   {"data":{"values":[{"label":"BSP"}]},"mark":{"type":"text","color":"white","fontSize":10,"baseline":"middle"},"encoding":{"x":{"datum":-776,"type":"quantitative","axis":null},"y":{"datum":5.65,"type":"quantitative","axis":null},"text":{"field":"label"}}},
   {"data":{"values":[{"pos":100}]},"mark":{"type":"rule","color":"#3d3d99","strokeWidth":1.5},"encoding":{"x":{"field":"pos","type":"quantitative","axis":null},"y":{"datum":5.3,"type":"quantitative","axis":null},"y2":{"datum":3.4}}},
   {"data":{"values":[{"pos":100,"label":"ATG"}]},"mark":{"type":"text","color":"#3d3d99","fontSize":12,"baseline":"middle"},"encoding":{"x":{"field":"pos","type":"quantitative","axis":null},"y":{"datum":5.85,"type":"quantitative","axis":null},"text":{"field":"label"}}},
   {"data":{"values":[{"label":"bp -5000"}]},"mark":{"type":"text","fontSize":12.5,"align":"left","baseline":"middle"},"encoding":{"x":{"datum":-5133,"type":"quantitative","axis":null},"y":{"datum":6.0,"type":"quantitative","axis":null},"text":{"field":"label"}}},
   {"data":{"values":[{"label":"bp +2000"}]},"mark":{"type":"text","fontSize":12.5,"align":"right","baseline":"middle"},"encoding":{"x":{"datum":2280,"type":"quantitative","axis":null},"y":{"datum":6.0,"type":"quantitative","axis":null},"text":{"field":"label"}}},
   {"data":{"values":[{}]},"mark":{"type":"text","fontSize":17,"fontWeight":"bold","baseline":"middle"},"encoding":{"x":{"datum":-4614,"type":"quantitative","axis":null},"y":{"datum":9.15,"type":"quantitative","axis":null},"text":{"value":"C"}}}
 ]},
 {"layer":[
   {"data":{"name":"bspD"},"mark":{"type":"point","filled":true,"size":19,"stroke":"#222222","strokeWidth":0.7,"opacity":1},
    "encoding":{
     "x":{"field":"cell","type":"nominal","sort":["MDA-MB-231","BT-549","BT-474"],"scale":{"type":"band","range":[598,779],"paddingInner":0.12,"paddingOuter":0},"axis":{"orient":"top","offset":-374,"title":null,"domain":false,"ticks":false,"labelAngle":0,"labelFontSize":12,"labelPadding":3,"labelAlign":{"condition":{"test":"datum.value === 'MDA-MB-231'","value":"right"},"value":"center"},"labelOffset":{"condition":{"test":"datum.value === 'MDA-MB-231'","value":6},"value":0}}},
     "xOffset":{"field":"cpg","type":"ordinal","scale":{"type":"point","padding":0.5}},
     "y":{"field":"clone","type":"ordinal","scale":{"type":"point","range":[374,414],"padding":0.5},"axis":null},
     "fill":{"field":"m","type":"nominal","scale":{"domain":[0,1],"range":["white","black"]},"legend":null}}},
   {"data":{"values":[{}]},"mark":{"type":"text","fontSize":13,"fontStyle":"italic","align":"right","baseline":"middle","dx":-33},"encoding":{"x":{"datum":"MDA-MB-231","bandPosition":0},"y":{"datum":4,"type":"ordinal"},"text":{"value":"VAV3"}}},
   {"data":{"values":[{}]},"mark":{"type":"text","fontSize":13,"align":"right","baseline":"middle","dx":-3},"encoding":{"x":{"datum":"MDA-MB-231","bandPosition":0},"y":{"datum":4,"type":"ordinal"},"text":{"value":"BSP"}}},
   {"data":{"values":[{}]},"mark":{"type":"text","fontSize":17,"fontWeight":"bold","baseline":"middle","dx":-66,"dy":-43},"encoding":{"x":{"datum":"MDA-MB-231","bandPosition":0},"y":{"datum":1,"type":"ordinal"},"text":{"value":"D"}}}
 ]},
 {"layer":[
   {"data":{"name":"boxE1"},"mark":{"type":"rule","strokeDash":[4,3],"strokeWidth":1.8,"color":"black"},
    "encoding":{
     "x":{"field":"i","type":"quantitative","scale":{"domain":[0.2,6.6],"range":[65,230],"nice":false,"zero":false},"axis":{"orient":"bottom","offset":-62,"values":[1,2,3,4,5,6],"labelExpr":"['Normal','Basal','Her2','Luminal A','Luminal B','Normal-like'][datum.value-1]","labelAngle":-45,"title":null,"ticks":false,"labelFontSize":13.5,"labelPadding":4}},
     "y":{"field":"q3","type":"quantitative","scale":{"domain":[-6.3,4.82],"range":[660,498],"nice":false,"zero":false},"axis":{"orient":"left","offset":-65,"values":[-6,-4,-2,0,2,4],"format":"d","labelExpr":"replace(datum.label,'−','-')","title":["VAV3 expression","(Normalized Log2 Intensity)"],"titleFontSize":14,"titleLineHeight":15,"labelFontSize":13.5,"labelFontWeight":"bold","tickSize":6,"labelPadding":3,"titlePadding":2}},
     "y2":{"field":"hi"}}},
   {"data":{"name":"boxE1"},"mark":{"type":"rule","strokeDash":[4,3],"strokeWidth":1.8,"color":"black"},"encoding":{"x":{"field":"i","type":"quantitative"},"y":{"field":"lo","type":"quantitative"},"y2":{"field":"q1"}}},
   {"data":{"name":"boxE1"},"mark":{"type":"tick","orient":"horizontal","size":11,"thickness":2,"color":"black"},"encoding":{"x":{"field":"i","type":"quantitative"},"y":{"field":"hi","type":"quantitative"}}},
   {"data":{"name":"boxE1"},"mark":{"type":"tick","orient":"horizontal","size":11,"thickness":2,"color":"black"},"encoding":{"x":{"field":"i","type":"quantitative"},"y":{"field":"lo","type":"quantitative"}}},
   {"data":{"name":"boxE1"},"mark":{"type":"bar","size":21,"stroke":"black","strokeWidth":1.5},"encoding":{"x":{"field":"i","type":"quantitative"},"y":{"field":"q1","type":"quantitative"},"y2":{"field":"q3"},"fill":{"field":"name","type":"nominal","scale":{"domain":["Normal","Basal","Her2","Luminal A","Luminal B","Normal-like"],"range":["#ffffff","#d9d9d9","#ababab","#8f8f8f","#6f6f6f","#505050"]},"legend":null}}},
   {"data":{"name":"boxE1"},"mark":{"type":"tick","orient":"horizontal","size":21,"thickness":1.6,"color":"black"},"encoding":{"x":{"field":"i","type":"quantitative"},"y":{"field":"med","type":"quantitative"}}},
   {"data":{"name":"outE1"},"mark":{"type":"circle","size":3,"color":"black","opacity":1},"encoding":{"x":{"field":"i","type":"quantitative"},"y":{"field":"v","type":"quantitative"}}},
   {"data":{"name":"brE1"},"mark":{"type":"rule","strokeWidth":1.2,"color":"black"},"encoding":{"x":{"field":"a","type":"quantitative"},"x2":{"field":"b"},"y":{"field":"lv","type":"quantitative"}}},
   {"data":{"name":"brE1"},"mark":{"type":"rule","strokeWidth":1.2,"color":"black"},"encoding":{"x":{"field":"a","type":"quantitative"},"y":{"field":"lv","type":"quantitative"},"y2":{"field":"lt"}}},
   {"data":{"name":"brE1"},"mark":{"type":"rule","strokeWidth":1.2,"color":"black"},"encoding":{"x":{"field":"b","type":"quantitative"},"y":{"field":"lv","type":"quantitative"},"y2":{"field":"lt"}}},
   {"data":{"name":"brE1"},"mark":{"type":"text","fontSize":10,"fontWeight":"bold","baseline":"bottom","dy":-1},"encoding":{"x":{"field":"m","type":"quantitative"},"y":{"field":"lv","type":"quantitative"},"text":{"field":"lab"}}},
   {"data":{"values":[{}]},"mark":{"type":"text","fontSize":17,"fontWeight":"bold","baseline":"middle"},"encoding":{"x":{"datum":-0.96},"y":{"datum":7.36},"text":{"value":"E"}}},
   {"data":{"values":[{}]},"mark":{"type":"text","fontSize":15,"baseline":"middle"},"encoding":{"x":{"datum":3.15},"y":{"datum":7.36},"text":{"value":"VAV3 Expression"}}}
 ]},
 {"layer":[
   {"data":{"name":"boxE2"},"mark":{"type":"rule","strokeDash":[4,3],"strokeWidth":1.6,"color":"black"},
    "encoding":{
     "x":{"field":"i","type":"quantitative","scale":{"domain":[0.2,6.6],"range":[302,467],"nice":false,"zero":false},"axis":{"orient":"bottom","offset":-62,"values":[1,2,3,4,5,6],"labelExpr":"['Normal','Basal','Her2','Luminal A','Luminal B','Normal-like'][datum.value-1]","labelAngle":-45,"title":null,"ticks":false,"labelFontSize":13.5,"labelPadding":4}},
     "y":{"field":"q3","type":"quantitative","scale":{"domain":[0,1],"range":[660,500],"nice":false,"zero":false},"axis":{"orient":"left","offset":-302,"values":[0,0.2,0.4,0.6,0.8,1.0],"format":".1f","title":"VAV3 Methylation (Beta Value)","titleFontSize":14,"labelFontSize":13.5,"labelFontWeight":"bold","tickSize":6,"labelPadding":3,"titlePadding":5}},
     "y2":{"field":"hi"}}},
   {"data":{"name":"boxE2"},"mark":{"type":"rule","strokeDash":[4,3],"strokeWidth":1.6,"color":"black"},"encoding":{"x":{"field":"i","type":"quantitative"},"y":{"field":"lo","type":"quantitative"},"y2":{"field":"q1"}}},
   {"data":{"name":"boxE2"},"mark":{"type":"tick","orient":"horizontal","size":11,"thickness":2,"color":"black"},"encoding":{"x":{"field":"i","type":"quantitative"},"y":{"field":"hi","type":"quantitative"}}},
   {"data":{"name":"boxE2"},"mark":{"type":"tick","orient":"horizontal","size":11,"thickness":2,"color":"black"},"encoding":{"x":{"field":"i","type":"quantitative"},"y":{"field":"lo","type":"quantitative"}}},
   {"data":{"name":"boxE2"},"mark":{"type":"bar","size":20,"stroke":"black","strokeWidth":1.5},"encoding":{"x":{"field":"i","type":"quantitative"},"y":{"field":"q1","type":"quantitative"},"y2":{"field":"q3"},"fill":{"field":"name","type":"nominal","scale":{"domain":["Normal","Basal","Her2","Luminal A","Luminal B","Normal-like"],"range":["#ffffff","#d9d9d9","#ababab","#8f8f8f","#6f6f6f","#505050"]},"legend":null}}},
   {"data":{"name":"boxE2"},"mark":{"type":"tick","orient":"horizontal","size":20,"thickness":1.6,"color":"black"},"encoding":{"x":{"field":"i","type":"quantitative"},"y":{"field":"med","type":"quantitative"}}},
   {"data":{"name":"outE2"},"mark":{"type":"circle","size":3,"color":"black","opacity":1},"encoding":{"x":{"field":"i","type":"quantitative"},"y":{"field":"v","type":"quantitative"}}},
   {"data":{"name":"brE2"},"mark":{"type":"rule","strokeWidth":1.2,"color":"black"},"encoding":{"x":{"field":"a","type":"quantitative"},"x2":{"field":"b"},"y":{"field":"lv","type":"quantitative"}}},
   {"data":{"name":"brE2"},"mark":{"type":"rule","strokeWidth":1.2,"color":"black"},"encoding":{"x":{"field":"a","type":"quantitative"},"y":{"field":"lv","type":"quantitative"},"y2":{"field":"lt"}}},
   {"data":{"name":"brE2"},"mark":{"type":"rule","strokeWidth":1.2,"color":"black"},"encoding":{"x":{"field":"b","type":"quantitative"},"y":{"field":"lv","type":"quantitative"},"y2":{"field":"lt"}}},
   {"data":{"name":"brE2"},"mark":{"type":"text","fontSize":10,"fontWeight":"bold","baseline":"bottom","dy":1},"encoding":{"x":{"field":"m","type":"quantitative"},"y":{"field":"lv","type":"quantitative"},"text":{"field":"lab"}}},
   {"data":{"values":[{}]},"mark":{"type":"text","fontSize":15,"fontStyle":"italic","align":"right","baseline":"middle"},"encoding":{"x":{"datum":2.605},"y":{"datum":1.244},"text":{"value":"VAV3"}}},
   {"data":{"values":[{}]},"mark":{"type":"text","fontSize":15,"align":"left","baseline":"middle","dx":4},"encoding":{"x":{"datum":2.605},"y":{"datum":1.244},"text":{"value":"Promoter"}}},
   {"data":{"values":[{}]},"mark":{"type":"text","fontSize":15,"baseline":"middle"},"encoding":{"x":{"datum":3.15},"y":{"datum":1.1375},"text":{"value":"Methylation"}}}
 ]},
 {"layer":[
   {"data":{"name":"pointsF"},"mark":{"type":"point","size":20,"strokeWidth":1.1,"opacity":1},
    "encoding":{
     "x":{"field":"x","type":"quantitative","scale":{"domain":[-5,2.6],"range":[554,768],"nice":false,"zero":false},"axis":{"orient":"bottom","offset":-60,"values":[-5,-4,-3,-2,-1,0,1,2],"format":"d","title":["VAV3 Expression","(Normalized Log2 Intensity)"],"titleFontSize":15,"titleLineHeight":18,"labelFontSize":13,"tickSize":5,"labelPadding":2,"titlePadding":8}},
     "y":{"field":"y","type":"quantitative","scale":{"domain":[-0.043,0.8],"range":[662,505],"nice":false,"zero":false},"axis":{"orient":"left","offset":-554,"values":[0,0.2,0.4,0.6,0.8],"format":".1f","title":"VAV3 Methylation (Beta Value)","titleFontSize":13.5,"labelFontSize":13,"tickSize":5,"labelPadding":2,"titlePadding":12}},
     "shape":{"field":"subtype","type":"nominal","scale":{"domain":["Normal","Basal","Her2","Luminal A","Luminal B","Normal–Like"],"range":["square","square","cross","circle","circle","diamond"]},"legend":{"title":null,"orient":"none","legendX":561,"legendY":505,"labelFontSize":11.5,"symbolSize":20,"symbolStrokeWidth":1.1,"rowPadding":-4.4,"labelOffset":2,"padding":0}},
     "fill":{"field":"subtype","type":"nominal","scale":{"domain":["Normal","Basal","Her2","Luminal A","Luminal B","Normal–Like"],"range":["#3cb371","transparent","#d27fd8","transparent","#a9d7dc","#f39c4a"]},"legend":{"title":null,"orient":"none","legendX":561,"legendY":505,"labelFontSize":11.5,"symbolSize":20,"symbolStrokeWidth":1.1,"rowPadding":-4.4,"labelOffset":2,"padding":0}},
     "stroke":{"field":"subtype","type":"nominal","scale":{"domain":["Normal","Basal","Her2","Luminal A","Luminal B","Normal–Like"],"range":["#3cb371","#f26b6b","#d27fd8","#4a86b3","#a9d7dc","#f39c4a"]},"legend":{"title":null,"orient":"none","legendX":561,"legendY":505,"labelFontSize":11.5,"symbolSize":20,"symbolStrokeWidth":1.1,"rowPadding":-4.4,"labelOffset":2,"padding":0}}
    }},
   {"data":{"name":"fitF"},"mark":{"type":"line","color":"#a6a6a6","strokeWidth":6,"opacity":0.8,"strokeCap":"butt"},"encoding":{"x":{"field":"x","type":"quantitative"},"y":{"field":"y","type":"quantitative"}}},
   {"data":{"values":[{}]},"mark":{"type":"text","fontSize":17,"fontWeight":"bold","baseline":"middle"},"encoding":{"x":{"datum":-6.31},"y":{"datum":1.036},"text":{"value":"F"}}}
 ]}
],
"resolve":{"scale":{"x":"independent","y":"independent","fill":"independent","stroke":"independent","shape":"independent"},"axis":{"x":"independent","y":"independent"},"legend":{"fill":"independent","stroke":"independent","shape":"independent"}}
}
